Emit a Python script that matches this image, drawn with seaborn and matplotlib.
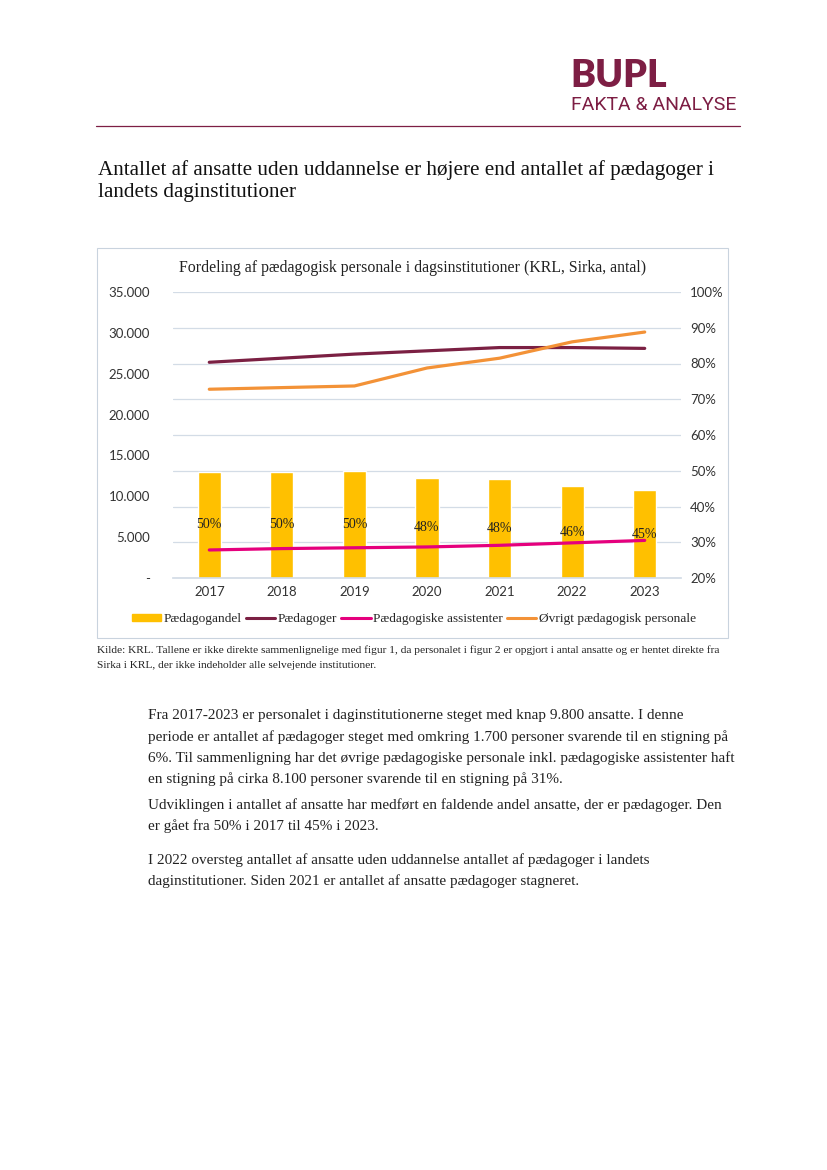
import numpy as np
import pandas as pd
import seaborn as sns
import matplotlib.pyplot as plt
from matplotlib.patches import Rectangle, Patch
from matplotlib.lines import Line2D
from matplotlib.ticker import FuncFormatter, PercentFormatter

# data
years = ["2017", "2018", "2019", "2020", "2021", "2022", "2023"]
paedagoger = [26400, 26900, 27400, 27800, 28200, 28200, 28100]
assistenter = [3430, 3600, 3700, 3800, 4000, 4300, 4600]
oevrigt = [23100, 23300, 23500, 25700, 26900, 28900, 30100]
paedagogandel = [0.497, 0.497, 0.499, 0.481, 0.477, 0.456, 0.446]

left_ticks = [0, 5000, 10000, 15000, 20000, 25000, 30000, 35000]

MAROON = "#7d1e44"
C_BAR = "#ffc000"
C_PAED = "#7b2043"
C_ASS = "#e5007d"
C_OEV = "#f39237"
GRID = "#d3dce6"
SERIF = ["Liberation Serif", "DejaVu Serif"]
SANS = ["Lato", "DejaVu Sans"]

sns.set_theme(style="white")
plt.rcParams["font.family"] = SERIF

W, H = 827, 1170
fig = plt.figure(figsize=(W / 100, H / 100), dpi=100)


def px(x, y):
    return x / W, 1 - y / H


# logo
fig.text(*px(570, 76), "BUPL", fontsize=27, fontweight="heavy", color=MAROON,
         family=SANS, va="center", ha="left")
fig.text(*px(571, 105), "FAKTA & ANALYSE", fontsize=14, color=MAROON,
         family=["Roboto", "DejaVu Sans"], va="center", ha="left")
fig.add_artist(Line2D([96 / W, 740 / W], [1 - 126 / H, 1 - 126 / H],
                      color=MAROON, lw=0.9))

# heading
fig.text(*px(98, 170), "Antallet af ansatte uden uddannelse er højere end antallet af pædagoger i",
         fontsize=15.2, color="#111111", va="center")
fig.text(*px(98, 193), "landets daginstitutioner", fontsize=15.2, color="#111111", va="center")

# chart frame
fig.add_artist(Rectangle(px(97, 638), 631 / W, 390 / H, fill=False,
                         edgecolor="#c9d3de", lw=0.8, transform=fig.transFigure))
fig.text(*px(413, 268), "Fordeling af pædagogisk personale i dagsinstitutioner (KRL, Sirka, antal)",
         fontsize=11.4, color="#222222", ha="center", va="center")

# axes: bars (right scale) below, lines (left scale) on top
l, b = px(173, 578)
ax2 = fig.add_axes([l, b, 508 / W, 286 / H])
ax = ax2.twinx()

sns.barplot(x=years, y=paedagogandel, color=C_BAR, width=0.32, saturation=1, ax=ax2)
ax2.set_ylim(0.2, 1.0)
ax2.set_yticks(np.arange(0.2, 1.01, 0.1))
ax2.yaxis.set_major_formatter(PercentFormatter(1.0, decimals=0))
ax2.grid(axis="y", color=GRID, lw=0.9)
ax2.set_axisbelow(True)
for bars in ax2.containers:
    ax2.bar_label(bars, labels=[f"{v * 100:.0f}%" for v in paedagogandel],
                  label_type="center", fontsize=10, color="#222222")

df = pd.DataFrame({"x": np.arange(len(years)), "Pædagoger": paedagoger,
                   "Pædagogiske assistenter": assistenter,
                   "Øvrigt pædagogisk personale": oevrigt})
sns.lineplot(data=df, x="x", y="Pædagoger", color=C_PAED, lw=2.3, ax=ax)
sns.lineplot(data=df, x="x", y="Pædagogiske assistenter", color=C_ASS, lw=2.3, ax=ax)
sns.lineplot(data=df, x="x", y="Øvrigt pædagogisk personale", color=C_OEV, lw=2.3, ax=ax)
ax.set_ylim(0, 35000)
ax.set_yticks(left_ticks)
ax.yaxis.set_major_formatter(FuncFormatter(
    lambda v, p: "-" if v == 0 else f"{int(v):,}".replace(",", ".")))
ax.set_xlim(-0.5, len(years) - 0.5)

# left labels for the count axis, right for the percentages
ax.yaxis.tick_left()
ax2.yaxis.tick_right()
ax.set_ylabel("")
ax2.set_ylabel("")
ax.set_xlabel("")
ax2.set_xlabel("")

for a in (ax, ax2):
    for s in a.spines.values():
        s.set_visible(False)
    a.tick_params(length=0, labelsize=9.5, colors="#333333")
    for t in a.get_yticklabels() + a.get_xticklabels():
        t.set_family(SANS)
ax.tick_params(axis="y", pad=16.5)
ax2.tick_params(axis="y", pad=6.5)
ax2.tick_params(axis="x", pad=6)
ax2.spines["bottom"].set_visible(True)
ax2.spines["bottom"].set_color(GRID)
ax.set_zorder(ax2.get_zorder() + 1)
ax.patch.set_visible(False)

handles = [Patch(color=C_BAR, label="Pædagogandel"),
           Line2D([], [], color=C_PAED, lw=2.2, label="Pædagoger"),
           Line2D([], [], color=C_ASS, lw=2.2, label="Pædagogiske assistenter"),
           Line2D([], [], color=C_OEV, lw=2.2, label="Øvrigt pædagogisk personale")]
fig.legend(handles=handles, loc="center", bbox_to_anchor=px(414, 619), ncol=4,
           frameon=False, fontsize=9.6, handlelength=2.2, handleheight=0.45,
           handletextpad=0.2, columnspacing=0.3)

# source note
fig.text(*px(97, 650), "Kilde: KRL. Tallene er ikke direkte sammenlignelige med figur 1, da personalet i figur 2 er opgjort i antal ansatte og er hentet direkte fra",
         fontsize=8.2, color="#222222", va="center")
fig.text(*px(97, 665), "Sirka i KRL, der ikke indeholder alle selvejende institutioner.",
         fontsize=8.2, color="#222222", va="center")

# body text
body = [
    (716, "Fra 2017-2023 er personalet i daginstitutionerne steget med knap 9.800 ansatte. I denne"),
    (737, "periode er antallet af pædagoger steget med omkring 1.700 personer svarende til en stigning på"),
    (758, "6%. Til sammenligning har det øvrige pædagogiske personale inkl. pædagogiske assistenter haft"),
    (779, "en stigning på cirka 8.100 personer svarende til en stigning på 31%."),
    (805, "Udviklingen i antallet af ansatte har medført en faldende andel ansatte, der er pædagoger. Den"),
    (826, "er gået fra 50% i 2017 til 45% i 2023."),
    (860, "I 2022 oversteg antallet af ansatte uden uddannelse antallet af pædagoger i landets"),
    (881, "daginstitutioner. Siden 2021 er antallet af ansatte pædagoger stagneret."),
]
for y, line in body:
    fig.text(*px(148, y), line, fontsize=11, color="#222222", va="center")

fig.savefig("out.png", dpi=100)
